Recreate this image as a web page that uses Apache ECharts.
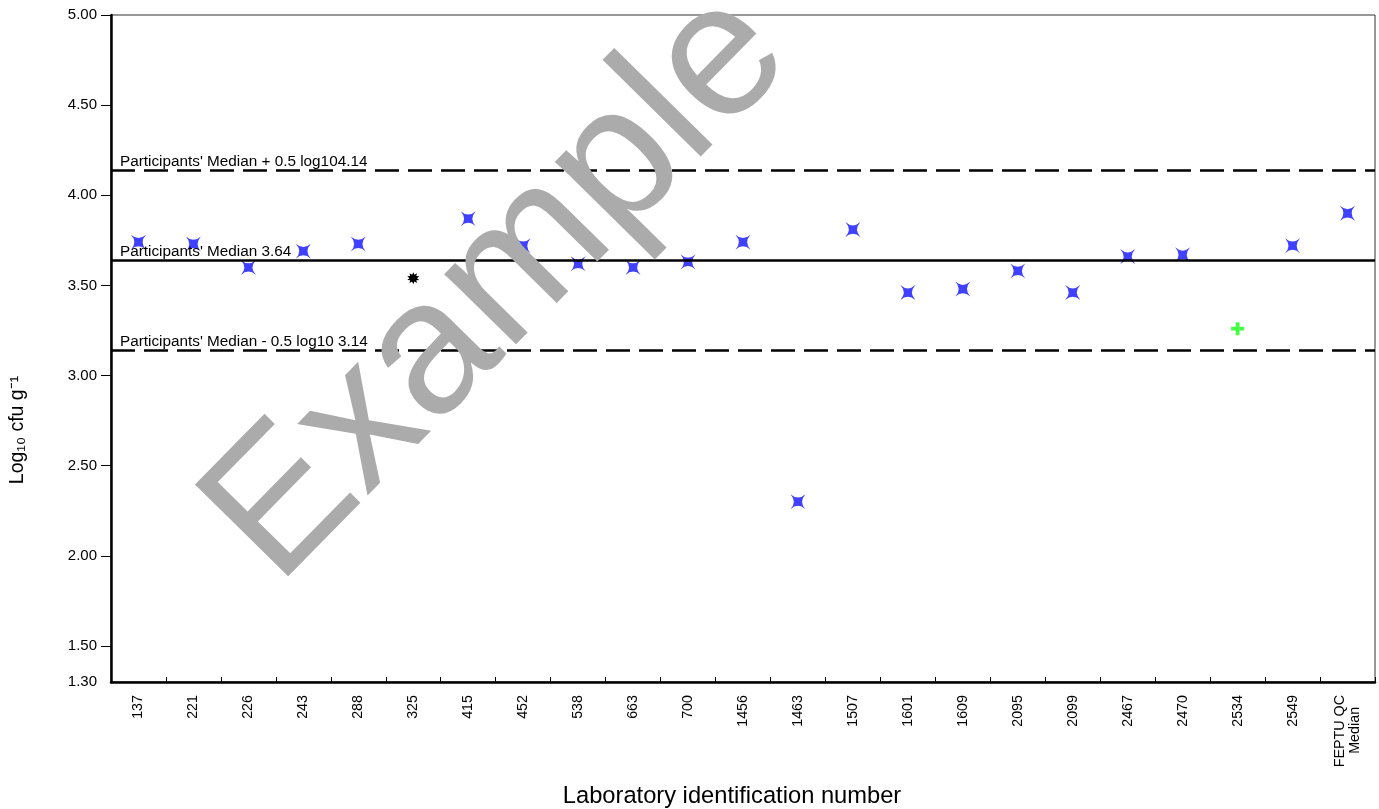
<!DOCTYPE html>
<html>
<head>
<meta charset="utf-8">
<script src="https://cdn.jsdelivr.net/npm/echarts@6/dist/echarts.min.js"></script>
<style>
  html, body { margin: 0; padding: 0; background: #fff; }
  #chart { width: 1379px; height: 809px; }
</style>
</head>
<body>
<div id="chart"></div>
<script>
// Laboratory results (log10 cfu per gram)
const labIds = ['137', '221', '226', '243', '288', '325', '415', '452', '538', '663', '700',
  '1456', '1463', '1507', '1601', '1609', '2095', '2099', '2467', '2470', '2534', '2549',
  'FEPTU QC\nMedian   '];
const logCounts = [3.74, 3.73, 3.60, 3.69, 3.73, 3.54, 3.87, 3.72, 3.62, 3.60, 3.63,
  3.74, 2.30, 3.81, 3.46, 3.48, 3.58, 3.46, 3.66, 3.67, 3.26, 3.72, 3.90];
const blackLabs = ['325'];
const greenLabs = ['2534'];

// Reference lines
const participantsMedian = 3.64;
const halfLog = 0.5;

// Y axis ticks and labels
const yLabelValues = [1.3, 1.5, 2.0, 2.5, 3.0, 3.5, 4.0, 4.5, 5.0];
const yTickValues = [1.5, 2.0, 2.5, 3.0, 3.5, 4.0, 4.5, 5.0];
const yMin = 1.3;
const yMax = 5.0;

const FONT = '"Liberation Sans", Arial, sans-serif';

// Marker shapes
const starPath = 'path://M-10,-10 Q0,-1 10,-10 Q1,0 10,10 Q0,1 -10,10 Q-1,0 -10,-10 Z';
const plusPath = 'path://M-3,-10 H3 V-3 H10 V3 H3 V10 H-3 V3 H-10 V-3 H-3 Z';
function burstPath(points, outer, inner) {
  let d = '';
  for (let i = 0; i < points * 2; i++) {
    const r = i % 2 === 0 ? outer : inner;
    const a = Math.PI * i / points - Math.PI / 2;
    d += (i === 0 ? 'M' : 'L') + (r * Math.cos(a)).toFixed(2) + ',' + (r * Math.sin(a)).toFixed(2) + ' ';
  }
  return 'path://' + d + 'Z';
}
const burst = burstPath(10, 10, 6);

const points = labIds.map((id, i) => {
  if (blackLabs.includes(id)) {
    return { value: [i, logCounts[i]], symbol: burst, symbolSize: 12, itemStyle: { color: '#000', opacity: 1 } };
  }
  if (greenLabs.includes(id)) {
    return { value: [i, logCounts[i]], symbol: plusPath, symbolSize: 13, itemStyle: { color: '#44ff44', opacity: 1 } };
  }
  return { value: [i, logCounts[i]], symbol: starPath, symbolSize: 15, itemStyle: { color: '#4040ff', opacity: 1 } };
});

const upper = participantsMedian + halfLog;
const lower = participantsMedian - halfLog;

const refLabel = {
  show: true,
  position: 'insideStartTop',
  distance: [9, 1],
  color: '#000',
  fontSize: 15.3,
  fontFamily: FONT
};

const chart = echarts.init(document.getElementById('chart'));
chart.setOption({
  animation: false,
  backgroundColor: '#fff',
  grid: {
    left: 111, right: 4, top: 15, bottom: 127,
    show: true, borderColor: '#333', borderWidth: 1, backgroundColor: 'transparent'
  },
  xAxis: {
    type: 'category',
    data: labIds,
    boundaryGap: true,
    axisLine: { show: true, lineStyle: { color: '#000', width: 2.5 } },
    axisTick: { show: true, inside: true, length: 5, alignWithLabel: false, lineStyle: { color: '#000', width: 1 } },
    axisLabel: { interval: 0, rotate: 90, margin: 13, color: '#000', fontSize: 14.3, fontFamily: FONT, lineHeight: 15 },
    splitLine: { show: false }
  },
  yAxis: {
    type: 'value',
    min: yMin,
    max: yMax,
    axisLine: { show: true, lineStyle: { color: '#000', width: 2.5 } },
    axisTick: { show: true, length: 10, customValues: yTickValues, lineStyle: { color: '#000', width: 1 } },
    axisLabel: {
      customValues: yLabelValues, margin: 14, color: '#000', fontSize: 15, fontFamily: FONT,
      formatter: v => Number(v).toFixed(2)
    },
    splitLine: { show: false }
  },
  series: [{
    type: 'scatter',
    data: points,
    z: 3,
    markLine: {
      silent: true,
      symbol: 'none',
      animation: false,
      data: [
        {
          yAxis: upper,
          lineStyle: { color: '#000', width: 2.5, type: [24, 9] },
          label: Object.assign({}, refLabel, { formatter: "Participants' Median + 0.5 log10" + upper.toFixed(2) })
        },
        {
          yAxis: participantsMedian,
          lineStyle: { color: '#000', width: 2.5, type: 'solid' },
          label: Object.assign({}, refLabel, { formatter: "Participants' Median " + participantsMedian.toFixed(2) })
        },
        {
          yAxis: lower,
          lineStyle: { color: '#000', width: 2.5, type: [24, 9] },
          label: Object.assign({}, refLabel, { formatter: "Participants' Median - 0.5 log10 " + lower.toFixed(2) })
        }
      ]
    }
  }],
  graphic: [
    {
      type: 'text', x: 499, y: 287, rotation: 0.794, z: 100, silent: true,
      style: { text: 'Example', font: '190px "Liberation Sans", Arial, sans-serif', fill: '#ababab', align: 'center', verticalAlign: 'middle' }
    },
    {
      type: 'text', x: 18, y: 430, rotation: Math.PI / 2, z: 10, silent: true,
      style: { text: 'Log\u2081\u2080 cfu g\u207B\u00B9', font: '19.5px "Liberation Sans", Arial, sans-serif', fill: '#000', align: 'center', verticalAlign: 'middle' }
    },
    {
      type: 'text', x: 732, y: 796, z: 10, silent: true,
      style: { text: 'Laboratory identification number', font: '23.7px "Liberation Sans", Arial, sans-serif', fill: '#000', align: 'center', verticalAlign: 'middle' }
    }
  ]
});
</script>
</body>
</html>
